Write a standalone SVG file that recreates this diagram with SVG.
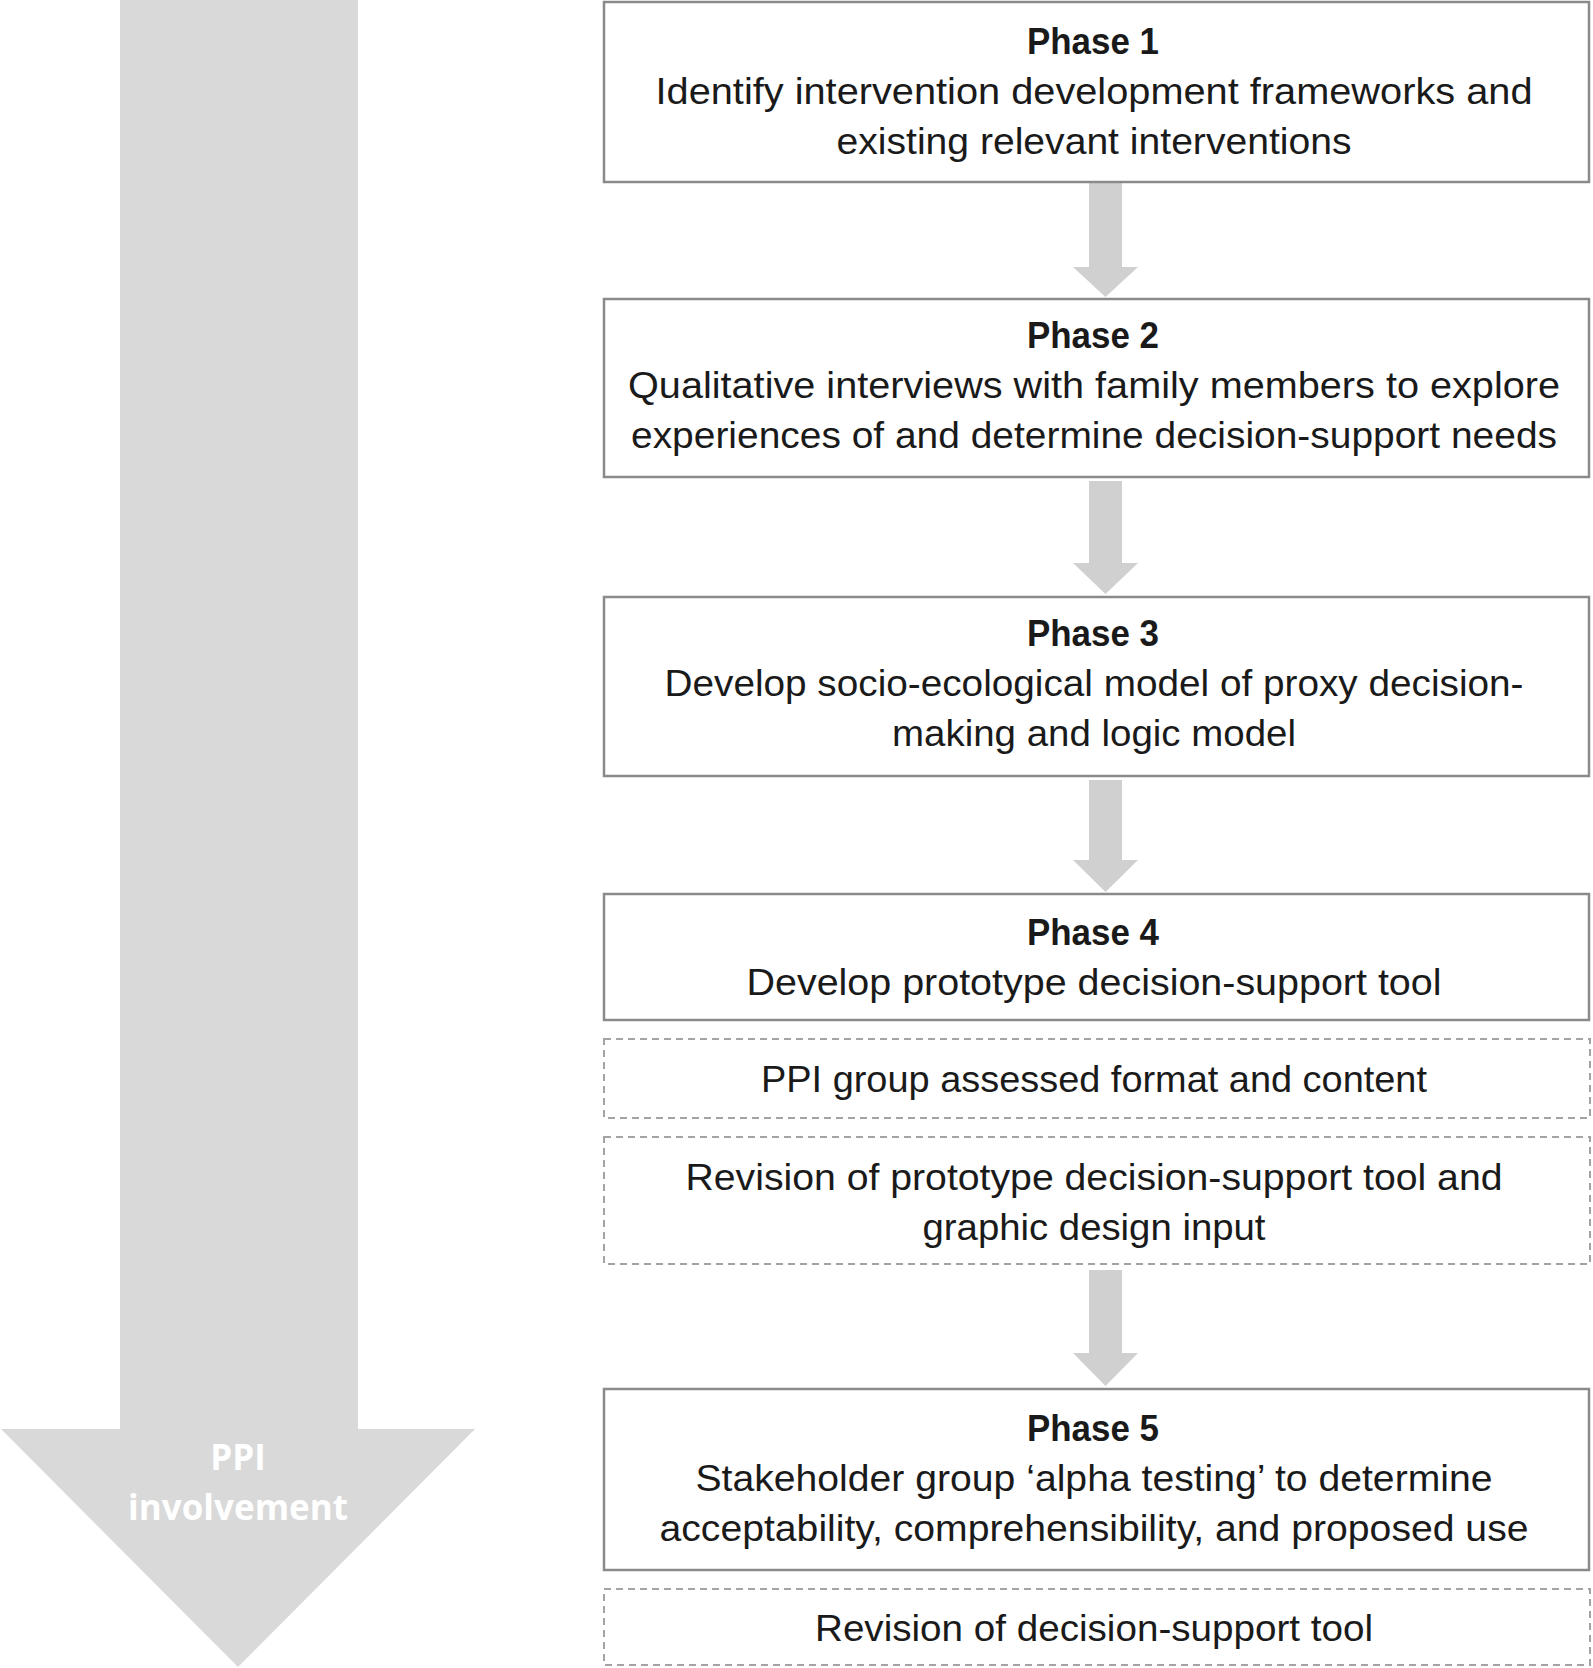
<svg xmlns="http://www.w3.org/2000/svg" width="1593" height="1668" viewBox="0 0 1593 1668">
<style>
.box{fill:#fff;stroke:#8a8a8a;stroke-width:2.5}
.dbox{fill:#fff;stroke:#a3a3a3;stroke-width:2;stroke-dasharray:7 5}
.t{font-family:"Liberation Sans",Arial,sans-serif;font-size:37px;fill:#1a1a1a;text-anchor:middle}
.h{font-weight:bold}
.conn{fill:#d0d0d0}
.big{fill:#d9d9d9}
.bt{font-family:"Open Sans","DejaVu Sans",sans-serif;font-weight:bold;font-size:35px;fill:#fff;text-anchor:middle}
</style>
<g id="ppi-arrow">
<path class="big" d="M120,0 H358 V1429 H475 L238,1667 L1,1429 H120 Z"/>
<text class="bt" x="238" y="1470">PPI</text>
<text class="bt" x="238" y="1520">involvement</text>
</g>
<g id="connectors">
<path class="conn" d="M1089,183 H1122 V267 H1138 L1105.5,297 L1073,267 H1089 Z"/>
<path class="conn" d="M1089,481 H1122 V563 H1138 L1105.5,594 L1073,563 H1089 Z"/>
<path class="conn" d="M1089,780 H1122 V860 H1138 L1105.5,892 L1073,860 H1089 Z"/>
<path class="conn" d="M1089,1270 H1122 V1353 H1138 L1105.5,1386 L1073,1353 H1089 Z"/>
</g>
<g id="phase1">
<rect class="box" x="604" y="2" width="985" height="180"/>
<text class="t h" x="1093" y="54" textLength="132" lengthAdjust="spacingAndGlyphs">Phase 1</text>
<text class="t" x="1094" y="104" textLength="877" lengthAdjust="spacingAndGlyphs">Identify intervention development frameworks and</text>
<text class="t" x="1094" y="154" textLength="515" lengthAdjust="spacingAndGlyphs">existing relevant interventions</text>
</g>
<g id="phase2">
<rect class="box" x="604" y="299" width="985" height="178"/>
<text class="t h" x="1093" y="348" textLength="132" lengthAdjust="spacingAndGlyphs">Phase 2</text>
<text class="t" x="1094" y="398" textLength="932" lengthAdjust="spacingAndGlyphs">Qualitative interviews with family members to explore</text>
<text class="t" x="1094" y="448" textLength="926" lengthAdjust="spacingAndGlyphs">experiences of and determine decision-support needs</text>
</g>
<g id="phase3">
<rect class="box" x="604" y="597" width="985" height="179"/>
<text class="t h" x="1093" y="646" textLength="132" lengthAdjust="spacingAndGlyphs">Phase 3</text>
<text class="t" x="1094" y="696" textLength="859" lengthAdjust="spacingAndGlyphs">Develop socio-ecological model of proxy decision-</text>
<text class="t" x="1094" y="746" textLength="404" lengthAdjust="spacingAndGlyphs">making and logic model</text>
</g>
<g id="phase4">
<rect class="box" x="604" y="894" width="985" height="126"/>
<text class="t h" x="1093" y="945" textLength="132" lengthAdjust="spacingAndGlyphs">Phase 4</text>
<text class="t" x="1094" y="995" textLength="695" lengthAdjust="spacingAndGlyphs">Develop prototype decision-support tool</text>
</g>
<g id="ppi-group">
<rect class="dbox" x="604" y="1039" width="986" height="79"/>
<text class="t" x="1094" y="1092" textLength="666" lengthAdjust="spacingAndGlyphs">PPI group assessed format and content</text>
</g>
<g id="revision-prototype">
<rect class="dbox" x="604" y="1137" width="986" height="127"/>
<text class="t" x="1094" y="1190" textLength="817" lengthAdjust="spacingAndGlyphs">Revision of prototype decision-support tool and</text>
<text class="t" x="1094" y="1240" textLength="343" lengthAdjust="spacingAndGlyphs">graphic design input</text>
</g>
<g id="phase5">
<rect class="box" x="604" y="1389" width="985" height="181"/>
<text class="t h" x="1093" y="1441" textLength="132" lengthAdjust="spacingAndGlyphs">Phase 5</text>
<text class="t" x="1094" y="1491" textLength="797" lengthAdjust="spacingAndGlyphs">Stakeholder group ‘alpha testing’ to determine</text>
<text class="t" x="1094" y="1541" textLength="869" lengthAdjust="spacingAndGlyphs">acceptability, comprehensibility, and proposed use</text>
</g>
<g id="revision-final">
<rect class="dbox" x="604" y="1589" width="986" height="76"/>
<text class="t" x="1094" y="1641" textLength="558" lengthAdjust="spacingAndGlyphs">Revision of decision-support tool</text>
</g>
</svg>
